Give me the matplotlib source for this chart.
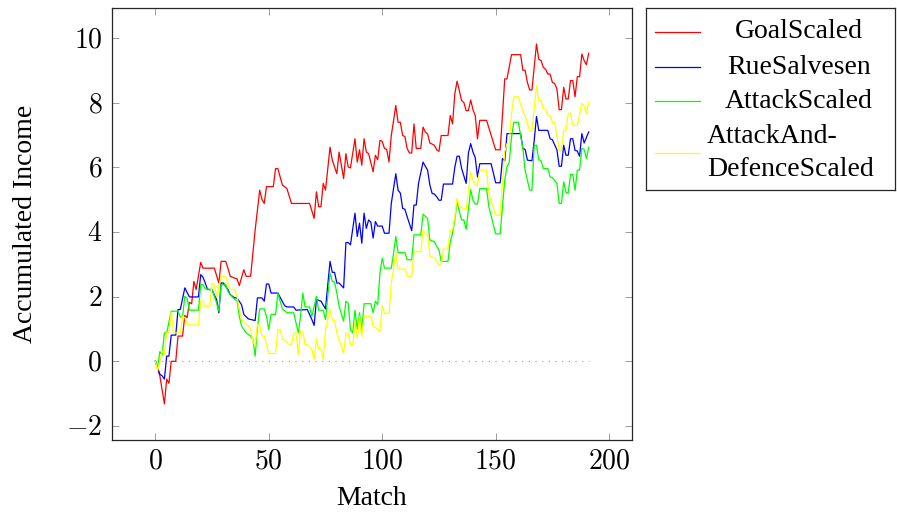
import matplotlib.pyplot as plt
import numpy as np
from matplotlib.ticker import FuncFormatter

plt.rcParams['font.family'] = 'Liberation Serif'
plt.rcParams['mathtext.fontset'] = 'cm'

# (match, accumulated income) for each strategy
goal = [(0, 0), (2, -0.45), (4, -1.32), (5, -0.55), (6, -0.68), (7, 0.0), (9, 0.0), (10, 0.78),
        (12, 0.78), (13, 1.42), (14, 1.35), (15, 1.82), (16, 1.78), (17, 2.47), (18, 2.22), (20, 3.06),
        (21, 2.88), (26, 2.88), (28, 2.42), (29, 3.09), (31, 3.09), (32, 2.88), (33, 2.63), (35, 2.57),
        (36, 2.55), (37, 2.34), (39, 2.83), (40, 2.63), (42, 2.63), (44, 4.06), (46, 5.29), (47, 5.0),
        (48, 4.88), (49, 5.4), (52, 5.4), (53, 5.96), (54, 5.96), (56, 5.45), (58, 5.34), (60, 4.88),
        (68, 4.88), (70, 4.42), (71, 5.24), (72, 4.78), (73, 4.78), (74, 5.5), (75, 5.29), (77, 6.62),
        (78, 6.22), (80, 5.8), (81, 6.47), (83, 5.65), (84, 6.42), (85, 6.01), (86, 5.98), (88, 6.88),
        (89, 6.16), (90, 6.54), (91, 6.06), (92, 6.88), (93, 6.47), (94, 6.42), (96, 5.86), (97, 6.37),
        (98, 6.23), (99, 6.83), (100, 6.8), (101, 6.58), (102, 6.55), (103, 6.16), (104, 6.98), (106, 7.91),
        (107, 7.39), (108, 7.39), (109, 6.98), (110, 6.95), (111, 6.58), (112, 6.44), (113, 6.44), (114, 7.34),
        (115, 6.58), (117, 6.58), (118, 7.24), (119, 7.09), (120, 7.03), (121, 6.75), (123, 6.68), (124, 6.54),
        (125, 6.49), (126, 6.98), (129, 6.98), (130, 7.6), (131, 7.34), (132, 8.27), (133, 8.66), (134, 8.37),
        (135, 8.06), (136, 8.0), (137, 7.75), (138, 7.75), (139, 8.08), (140, 7.78), (141, 7.6), (142, 6.88),
        (143, 7.45), (146, 7.45), (150, 6.54), (152, 6.54), (153, 7.6), (154, 8.73), (155, 8.73), (157, 9.48),
        (161, 9.48), (162, 9.0), (163, 9.0), (164, 8.62), (165, 8.39), (166, 8.39), (168, 9.81), (169, 9.34),
        (170, 9.3), (171, 9.09), (172, 9.03), (173, 8.88), (174, 8.88), (175, 8.62), (176, 8.59), (177, 8.42),
        (178, 7.78), (179, 7.78), (180, 8.47), (181, 8.11), (182, 8.11), (183, 8.68), (184, 8.68), (185, 8.18),
        (186, 8.8), (187, 8.8), (188, 9.5), (189, 9.3), (190, 9.17), (191, 9.52)]

rue = [(0, 0), (2, -0.4), (3, -0.45), (4, -0.55), (5, 0.16), (6, 0.16), (7, 0.81), (9, 0.81), (10, 1.6),
       (11, 1.6), (13, 2.27), (14, 2.13), (15, 1.99), (19, 1.99), (20, 2.68), (21, 2.6), (22, 2.42),
       (23, 2.22), (24, 2.22), (25, 2.2), (27, 1.91), (28, 1.5), (29, 2.42), (30, 2.42), (32, 2.22),
       (33, 2.06), (35, 1.96), (36, 1.96), (38, 1.75), (39, 1.45), (41, 1.31), (44, 1.26), (45, 1.96),
       (47, 1.96), (48, 1.86), (49, 2.39), (50, 2.39), (51, 2.11), (54, 2.11), (57, 1.72), (58, 1.68),
       (61, 1.68), (62, 1.58), (67, 1.6), (69, 1.29), (70, 1.11), (71, 1.91), (73, 1.86), (75, 1.62),
       (77, 3.09), (78, 2.75), (79, 2.75), (80, 2.42), (81, 2.42), (83, 2.27), (84, 3.67), (85, 3.67),
       (86, 3.6), (88, 4.58), (89, 3.86), (90, 4.27), (91, 3.65), (92, 4.58), (93, 4.11), (94, 4.37),
       (95, 4.3), (96, 3.81), (97, 4.32), (98, 4.18), (100, 4.18), (101, 3.96), (103, 3.96), (104, 4.88),
       (106, 5.8), (107, 5.29), (108, 5.2), (109, 4.73), (110, 4.7), (111, 4.47), (113, 4.04), (114, 4.83),
       (115, 4.83), (116, 5.5), (118, 6.16), (119, 6.03), (120, 5.91), (121, 5.45), (122, 5.19), (123, 5.17),
       (124, 5.09), (125, 4.98), (126, 4.98), (127, 5.48), (131, 5.48), (132, 6.0), (133, 6.34), (134, 6.34),
       (135, 5.96), (137, 5.5), (138, 6.44), (139, 6.73), (140, 6.47), (141, 6.3), (142, 5.7), (143, 6.11),
       (148, 6.11), (150, 5.52), (152, 5.52), (153, 6.27), (154, 6.2), (155, 7.04), (161, 7.04), (162, 6.58),
       (163, 6.55), (164, 6.22), (166, 6.2), (167, 6.83), (168, 7.57), (169, 7.14), (173, 7.14), (174, 6.88),
       (175, 6.85), (177, 6.54), (178, 6.03), (179, 6.03), (180, 6.68), (181, 6.37), (182, 6.37), (183, 6.88),
       (184, 6.88), (185, 6.52), (186, 6.5), (187, 6.34), (188, 7.04), (189, 6.75), (191, 7.09)]

attack = [(0, 0), (1, -0.2), (2, 0.3), (3, 0.2), (4, 0.88), (5, 0.88), (7, 1.55), (10, 1.55), (11, 1.37),
          (12, 1.37), (13, 2.01), (14, 1.95), (15, 1.58), (19, 1.58), (20, 2.37), (21, 2.37), (22, 2.24),
          (25, 2.22), (26, 2.01), (27, 1.8), (28, 1.55), (29, 2.37), (31, 2.37), (32, 2.16), (33, 2.06),
          (35, 1.91), (36, 1.88), (37, 1.39), (38, 1.09), (40, 0.88), (42, 0.78), (43, 0.68), (44, 0.16),
          (45, 1.04), (46, 1.62), (48, 1.62), (49, 1.39), (50, 0.98), (51, 1.45), (53, 1.45), (54, 2.11),
          (56, 1.62), (58, 1.5), (61, 1.5), (63, 0.88), (64, 1.4), (65, 2.11), (66, 1.68), (68, 1.68),
          (69, 1.39), (71, 2.01), (72, 1.58), (74, 1.58), (75, 1.29), (77, 2.73), (78, 2.47), (79, 2.45),
          (80, 2.11), (81, 1.7), (83, 1.24), (84, 1.86), (85, 1.8), (86, 0.98), (87, 0.88), (88, 1.58),
          (89, 0.98), (90, 1.5), (91, 0.96), (92, 1.78), (95, 1.78), (96, 1.5), (97, 1.86), (98, 1.75),
          (99, 2.73), (100, 3.19), (101, 2.88), (104, 2.88), (105, 3.34), (106, 3.86), (107, 3.36), (110, 3.36),
          (111, 3.14), (113, 3.14), (114, 3.91), (117, 3.91), (118, 4.55), (119, 4.48), (120, 4.42), (121, 3.75),
          (123, 3.7), (124, 3.55), (125, 3.45), (126, 3.09), (129, 3.09), (130, 3.7), (131, 3.96), (132, 4.37),
          (133, 4.93), (134, 4.62), (135, 4.37), (136, 4.37), (137, 4.08), (139, 5.31), (140, 4.98), (141, 4.86),
          (142, 4.86), (143, 5.34), (146, 5.34), (147, 4.78), (150, 3.94), (152, 3.94), (154, 5.6), (155, 6.01),
          (156, 6.16), (157, 6.93), (158, 7.39), (160, 7.39), (162, 6.58), (163, 5.9), (165, 5.29), (166, 5.29),
          (167, 6.68), (168, 6.68), (169, 6.23), (170, 6.2), (171, 5.96), (173, 5.96), (174, 5.7), (175, 5.68),
          (177, 5.5), (178, 4.88), (179, 4.88), (180, 5.55), (181, 5.21), (182, 5.21), (183, 5.78), (184, 5.78),
          (185, 5.29), (186, 5.91), (187, 5.91), (188, 6.58), (189, 6.55), (190, 6.27), (191, 6.62)]

attack_defence = [(0, 0), (1, -0.3), (3, 0.32), (4, 0.2), (5, 0.88), (6, 0.9), (7, 1.52), (8, 0.88),
                  (11, 0.88), (12, 1.39), (13, 1.35), (14, 1.14), (15, 1.12), (19, 1.12), (20, 1.86),
                  (21, 1.86), (22, 1.7), (24, 1.7), (25, 2.42), (26, 2.35), (27, 2.01), (29, 2.62), (31, 2.62),
                  (32, 2.42), (33, 2.22), (35, 2.22), (36, 2.01), (37, 1.6), (38, 1.29), (40, 1.14), (41, 1.1),
                  (42, 0.98), (43, 0.62), (44, 0.47), (45, 1.14), (46, 1.1), (47, 0.78), (48, 0.78), (50, 0.24),
                  (53, 0.24), (54, 0.98), (55, 0.98), (56, 0.68), (57, 0.66), (59, 0.52), (60, 0.52), (61, 0.88),
                  (62, 0.88), (63, 0.21), (64, 0.93), (65, 0.93), (66, 0.52), (67, 0.52), (68, 0.45), (69, 0.37),
                  (70, 0.06), (71, 0.7), (72, 0.39), (73, 0.39), (74, 0.06), (75, 0.98), (77, 1.6), (78, 1.27),
                  (79, 1.27), (80, 0.88), (81, 0.66), (83, 0.25), (84, 0.88), (85, 0.85), (86, 0.52), (87, 0.5),
                  (88, 1.24), (89, 0.7), (90, 1.39), (91, 0.76), (92, 1.39), (95, 1.39), (96, 1.09), (97, 1.05),
                  (98, 0.98), (99, 0.93), (100, 1.72), (101, 1.48), (103, 1.48), (104, 2.42), (105, 2.85),
                  (106, 3.36), (107, 2.85), (110, 2.85), (111, 2.63), (113, 2.63), (114, 3.39), (117, 3.39),
                  (118, 4.06), (119, 3.95), (120, 3.91), (121, 3.24), (123, 3.2), (124, 3.09), (125, 2.98),
                  (126, 2.98), (127, 3.47), (129, 3.47), (130, 4.06), (131, 4.06), (132, 4.47), (133, 5.04),
                  (134, 4.78), (136, 4.72), (137, 4.68), (139, 5.86), (140, 5.62), (141, 5.45), (142, 5.45),
                  (143, 5.91), (146, 5.91), (147, 5.19), (150, 4.52), (152, 4.52), (154, 6.47), (155, 6.73),
                  (156, 6.75), (157, 7.65), (158, 8.18), (160, 8.18), (162, 7.73), (163, 7.6), (165, 7.12),
                  (166, 7.12), (168, 8.52), (169, 8.06), (170, 8.06), (171, 7.81), (172, 7.8), (173, 7.6),
                  (174, 7.6), (175, 7.39), (176, 7.38), (177, 6.98), (178, 6.52), (179, 6.52), (180, 7.14),
                  (181, 7.14), (182, 7.67), (183, 7.67), (184, 7.29), (186, 7.29), (188, 7.98), (189, 7.9),
                  (190, 7.65), (191, 8.01)]

labels = ['GoalScaled', 'RueSalvesen', 'AttackScaled', 'AttackAnd-\nDefenceScaled']
colors = ['#ff0000', '#0000ff', '#00ff00', '#ffff00']
all_series = [goal, rue, attack, attack_defence]

fig = plt.figure(figsize=(8.97, 5.13), dpi=100)
ax = fig.add_axes([112 / 897, 1 - 440 / 513, 520 / 897, 432 / 513])

xs_all, ys_all = [], []
for data, c in zip(all_series, colors):
    m, v = np.array(data).T
    ax.plot(m, v, color=c, lw=0.9)
    xs_all.append(m)
    ys_all.append(v)
xs_all = np.concatenate(xs_all)
ys_all = np.concatenate(ys_all)

# zero reference
ax.plot([xs_all.min(), xs_all.max()], [0, 0], color='0.6', lw=0.8,
        linestyle=(0, (1, 5)), zorder=0)

# pgfplots-style 10% enlargement of the limits
xr = xs_all.max() - xs_all.min()
yr = ys_all.max() - ys_all.min()
ax.set_xlim(xs_all.min() - 0.1 * xr, xs_all.max() + 0.1 * xr)
ax.set_ylim(ys_all.min() - 0.1 * yr, ys_all.max() + 0.1 * yr)

ax.set_xticks([0, 50, 100, 150, 200])
ax.set_yticks([-2, 0, 2, 4, 6, 8, 10])
fmt = FuncFormatter(lambda val, pos: f'${val:g}$')
ax.xaxis.set_major_formatter(fmt)
ax.yaxis.set_major_formatter(fmt)
ax.tick_params(direction='in', top=True, right=True, length=5, width=0.6,
               color='0.55', labelsize=20, pad=7)
for s in ax.spines.values():
    s.set_linewidth(0.9)
    s.set_color('0.15')

ax.set_xlabel('Match', fontsize=20, labelpad=8)
ax.set_ylabel('Accumulated Income', fontsize=20, labelpad=20)

# legend box drawn in its own pixel-scaled axes
lax = fig.add_axes([646 / 897, 1 - 190 / 513, 249 / 897, 182 / 513])
lax.set_xlim(646, 895)
lax.set_ylim(190, 8)
lax.set_xticks([])
lax.set_yticks([])
for s in lax.spines.values():
    s.set_linewidth(0.9)
    s.set_color('0.15')

rows = [32, 67, 101, 153]
for lab, c, y in zip(labels, colors, rows):
    lax.plot([655, 700], [y, y], color=c, lw=0.9)
    if '\n' in lab:
        lax.text(707, y, lab, ha='left', va='center', fontsize=20, linespacing=1.45)
    else:
        lax.text(799, y, lab, ha='center', va='center', fontsize=20)

fig.savefig('out.png', dpi=100)
